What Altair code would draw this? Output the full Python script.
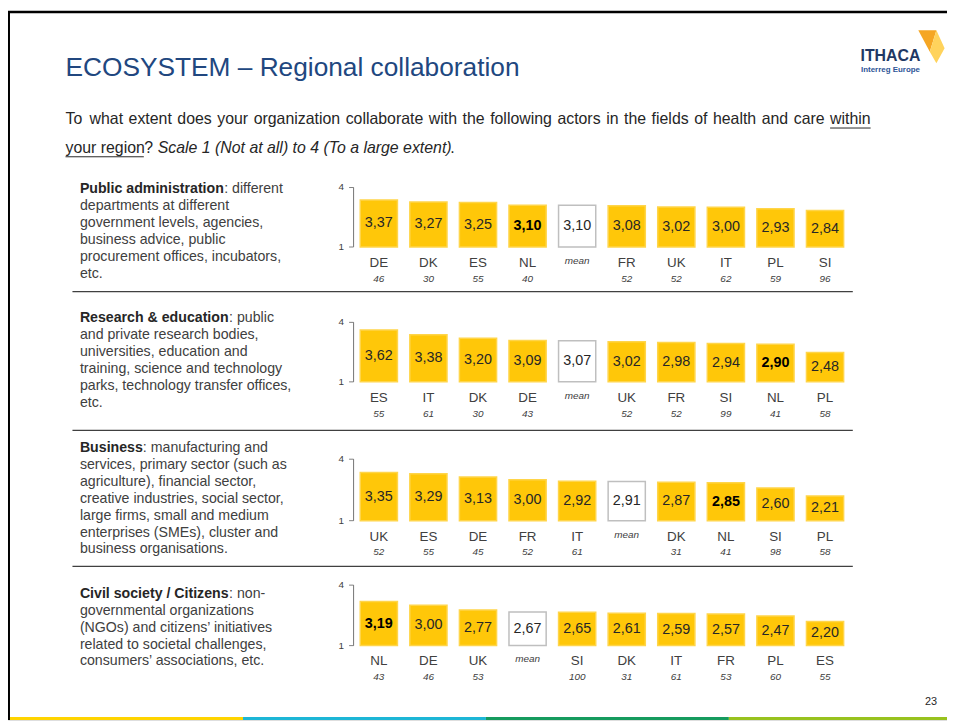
import altair as alt
import pandas as pd

W, H = 947, 715
FONT = "Liberation Sans"
YELLOW = "#FFC709"
MEAN_STROKE = "#BFBFBF"
TXT = "#404040"
DARK = "#262626"
AX = "#808080"
TITLE_COLOR = "#21477F"

TITLE = "ECOSYSTEM – Regional collaboration"
Q_LINE1 = "To what extent does your organization collaborate with the following actors in the fields of health and care within"
Q_UNDER2 = "your region"
Q_QMARK = "?"
Q_ITALIC = "Scale 1 (Not at all) to 4 (To a large extent)"
Q_END = "."
PAGE_NO = "23"
LOGO_1 = "ITHACA"
LOGO_2 = "Interreg Europe"

p1_countries = ["DE", "DK", "ES", "NL", "mean", "FR", "UK", "IT", "PL", "SI"]
p1_values = [3.37, 3.27, 3.25, 3.10, 3.10, 3.08, 3.02, 3.00, 2.93, 2.84]
p1_n = ["46", "30", "55", "40", "", "52", "52", "62", "59", "96"]

p2_countries = ["ES", "IT", "DK", "DE", "mean", "UK", "FR", "SI", "NL", "PL"]
p2_values = [3.62, 3.38, 3.20, 3.09, 3.07, 3.02, 2.98, 2.94, 2.90, 2.48]
p2_n = ["55", "61", "30", "43", "", "52", "52", "99", "41", "58"]

p3_countries = ["UK", "ES", "DE", "FR", "IT", "mean", "DK", "NL", "SI", "PL"]
p3_values = [3.35, 3.29, 3.13, 3.00, 2.92, 2.91, 2.87, 2.85, 2.60, 2.21]
p3_n = ["52", "55", "45", "52", "61", "", "31", "41", "98", "58"]

p4_countries = ["NL", "DE", "UK", "mean", "SI", "DK", "IT", "FR", "PL", "ES"]
p4_values = [3.19, 3.00, 2.77, 2.67, 2.65, 2.61, 2.59, 2.57, 2.47, 2.20]
p4_n = ["43", "46", "53", "", "100", "31", "61", "53", "60", "55"]

p1_bold = "Public administration"
p1_first = ": different"
p1_lines = ["departments at different", "government levels, agencies,", "business advice, public",
            "procurement offices, incubators,", "etc."]
p2_bold = "Research & education"
p2_first = ": public"
p2_lines = ["and private research bodies,", "universities, education and", "training, science and technology",
            "parks, technology transfer offices,", "etc."]
p3_bold = "Business"
p3_first = ": manufacturing and"
p3_lines = ["services, primary sector (such as", "agriculture), financial sector,",
            "creative industries, social sector,", "large firms, small and medium",
            "enterprises (SMEs), cluster and", "business organisations."]
p4_bold = "Civil society / Citizens"
p4_first = ": non-"
p4_lines = ["governmental organizations", "(NGOs) and citizens’ initiatives",
            "related to societal challenges,", "consumers’ associations, etc."]

AXIS_TICKS = [1, 4]

# layout (chart pixel coordinates)
PANEL_Y1 = [238, 374, 514, 640]
PANEL_Y4 = [178, 314, 452, 579]
DESC_Y = [173, 303, 434, 581]
BOLD_END = [218, 223, 136, 223]
SEP_Y = [283, 423, 560]
DESC_X = 72.5
LINE_H = 17
DESC_FS = 14.3
Q_FS = 16
Q_LEFT, Q_RIGHT = 58, 870

# Arial / Liberation Sans advance widths (1/1000 em) used to justify the first question line
_AW = {"a": 556, "b": 556, "c": 500, "d": 556, "e": 556, "f": 278, "g": 556, "h": 556, "i": 222,
       "j": 222, "k": 500, "l": 222, "m": 833, "n": 556, "o": 556, "p": 556, "q": 556, "r": 333,
       "s": 500, "t": 278, "u": 556, "v": 500, "w": 722, "x": 500, "y": 500, "z": 500, "T": 611}


def _w(s, fs):
    return sum(_AW.get(ch, 556) for ch in s) * fs / 1000.0


def justify(line, left, right, fs):
    words = line.split(" ")
    widths = [_w(wd, fs) for wd in words]
    gap = (right - left - sum(widths)) / (len(words) - 1)
    xs, cur = [], left
    for wd, wv in zip(words, widths):
        xs.append(cur)
        cur += wv + gap
    return pd.DataFrame({"word": words, "wx": xs, "ww": widths})


xscale = alt.Scale(type="band", range=[349, 849], paddingInner=0.25, paddingOuter=0.125)


def panel(countries, values, ns, y1, y4, bold, first, lines, dy, bx):
    df = pd.DataFrame({"pos": list(range(len(countries))), "country": countries,
                       "value": values, "n": ns})
    df["label"] = [f"{v:.2f}".replace(".", ",") for v in values]
    base = alt.Chart(df)
    x = alt.X("pos:O", scale=xscale, axis=None)
    ysc = alt.Scale(domain=[1, 4], range=[y1, y4], nice=False, zero=False)
    bars = base.mark_bar(strokeWidth=1.5).encode(
        x=x,
        y=alt.Y("value:Q", scale=ysc, axis=None),
        y2=alt.Y2(datum=1),
        fill=alt.condition("datum.country == 'mean'", alt.value("white"), alt.value(YELLOW)),
        stroke=alt.condition("datum.country == 'mean'", alt.value(MEAN_STROKE), alt.value("#FFD54A")),
    )
    vals = base.transform_calculate(mid="(datum.value + 1) / 2").transform_filter(
        "datum.country != 'NL'").mark_text(font=FONT, fontSize=14.5, color=DARK, baseline="middle").encode(
        x=x, y=alt.Y("mid:Q"), text="label:N")
    vals_nl = base.transform_calculate(mid="(datum.value + 1) / 2").transform_filter(
        "datum.country == 'NL'").mark_text(font=FONT, fontSize=14.5, color="#000000", fontWeight="bold",
                                           baseline="middle").encode(
        x=x, y=alt.Y("mid:Q"), text="label:N")
    ctry = base.transform_filter("datum.country != 'mean'").mark_text(
        font=FONT, fontSize=13.5, color=TXT, baseline="middle").encode(
        x=x, y=alt.value(y1 + 16), text="country:N")
    meanlab = base.transform_filter("datum.country == 'mean'").mark_text(
        font=FONT, fontSize=10, fontStyle="italic", color=TXT, baseline="middle").encode(
        x=x, y=alt.value(y1 + 14), text="country:N")
    nlab = base.mark_text(font=FONT, fontSize=10, fontStyle="italic", color=TXT, baseline="middle").encode(
        x=x, y=alt.value(y1 + 32), text="n:N")
    tdf = pd.DataFrame({"tick": AXIS_TICKS})
    tb = alt.Chart(tdf)
    axline = tb.mark_rule(color=AX, strokeWidth=1).encode(
        x=alt.value(348.5), y=alt.Y(datum=1), y2=alt.Y2(datum=4))
    ticks = tb.mark_rule(color=AX, strokeWidth=1).encode(
        x=alt.value(344), x2=alt.value(348.5), y=alt.Y("tick:Q"))
    tlabs = tb.mark_text(font=FONT, fontSize=10, color=TXT, align="right", baseline="middle").encode(
        x=alt.value(339), y=alt.Y("tick:Q"), text="tick:Q")
    one = pd.DataFrame({"k": [0]})
    d_bold = alt.Chart(one).mark_text(font=FONT, fontSize=DESC_FS, fontWeight="bold", color=DARK,
                                      align="left", baseline="top", text=bold).encode(
        x=alt.value(DESC_X), y=alt.value(dy))
    d_first = alt.Chart(one).mark_text(font=FONT, fontSize=DESC_FS, color=TXT,
                                       align="left", baseline="top", text=first).encode(
        x=alt.value(bx), y=alt.value(dy))
    d_rest = alt.Chart(one).mark_text(font=FONT, fontSize=DESC_FS, color=TXT, lineHeight=LINE_H,
                                      align="left", baseline="top", text=lines).encode(
        x=alt.value(DESC_X), y=alt.value(dy + LINE_H))
    return alt.layer(bars, vals, vals_nl, ctry, meanlab, nlab, axline, ticks, tlabs,
                     d_bold, d_first, d_rest)


panels = [
    panel(p1_countries, p1_values, p1_n, PANEL_Y1[0], PANEL_Y4[0], p1_bold, p1_first, p1_lines, DESC_Y[0], BOLD_END[0]),
    panel(p2_countries, p2_values, p2_n, PANEL_Y1[1], PANEL_Y4[1], p2_bold, p2_first, p2_lines, DESC_Y[1], BOLD_END[1]),
    panel(p3_countries, p3_values, p3_n, PANEL_Y1[2], PANEL_Y4[2], p3_bold, p3_first, p3_lines, DESC_Y[2], BOLD_END[2]),
    panel(p4_countries, p4_values, p4_n, PANEL_Y1[3], PANEL_Y4[3], p4_bold, p4_first, p4_lines, DESC_Y[3], BOLD_END[3]),
]

one = pd.DataFrame({"k": [0]})
oc = alt.Chart(one)

seps = alt.Chart(pd.DataFrame({"sy": SEP_Y})).mark_rule(color="#404040", strokeWidth=1.2).encode(
    x=alt.value(65), x2=alt.value(852), y=alt.Y("sy:Q", scale=None))

title = oc.mark_text(font=FONT, fontSize=26.5, color=TITLE_COLOR, align="left", baseline="middle",
                     text=TITLE).encode(x=alt.value(58), y=alt.value(58))

words = justify(Q_LINE1, Q_LEFT, Q_RIGHT, Q_FS)
q1 = alt.Chart(words).mark_text(font=FONT, fontSize=Q_FS, color=DARK, align="left", baseline="middle").encode(
    x=alt.X("wx:Q", scale=None), y=alt.value(109), text="word:N")
last = words.iloc[-1]
q1ul = oc.mark_rule(color=DARK, strokeWidth=1).encode(
    x=alt.value(float(last["wx"])), x2=alt.value(Q_RIGHT), y=alt.value(118))
q2u = oc.mark_text(font=FONT, fontSize=Q_FS, color=DARK, align="left", baseline="middle",
                   text=Q_UNDER2).encode(x=alt.value(58), y=alt.value(138))
q2ul = oc.mark_rule(color=DARK, strokeWidth=1).encode(x=alt.value(58), x2=alt.value(137), y=alt.value(147))
q2q = oc.mark_text(font=FONT, fontSize=Q_FS, color=DARK, align="left", baseline="middle",
                   text=Q_QMARK).encode(x=alt.value(137.5), y=alt.value(138))
q2i = oc.mark_text(font=FONT, fontSize=Q_FS, fontStyle="italic", color=DARK, align="left", baseline="middle",
                   text=Q_ITALIC).encode(x=alt.value(151), y=alt.value(138))
q2e = oc.mark_text(font=FONT, fontSize=Q_FS, color=DARK, align="left", baseline="middle",
                   text=Q_END).encode(x=alt.value(446), y=alt.value(138))

logo1 = oc.mark_text(font=FONT, fontSize=16, fontWeight="bold", color="#1F3864", align="center",
                     baseline="middle", text=LOGO_1).encode(x=alt.value(890), y=alt.value(45))
logo2 = oc.mark_text(font=FONT, fontSize=8, fontWeight="bold", color="#2E5597", align="center",
                     baseline="middle", text=LOGO_2).encode(x=alt.value(890), y=alt.value(60))
logo_a = oc.mark_point(shape="M-0.6,-1 L0.5,-1 L0.1,0.3 Z", filled=True, size=1100, opacity=1,
                       color="#F5A623").encode(x=alt.value(928), y=alt.value(36))
logo_b = oc.mark_point(shape="M0.5,-1 L1,0.1 L0.5,1 L0.1,0.3 Z", filled=True, size=1100, opacity=1,
                       color="#FFD35C").encode(x=alt.value(928), y=alt.value(36))

page = oc.mark_text(font=FONT, fontSize=11, color=DARK, align="right", baseline="middle",
                    text=PAGE_NO).encode(x=alt.value(937), y=alt.value(697))

frame_left = oc.mark_rule(color="#000000", strokeWidth=3).encode(
    x=alt.value(0.5), y=alt.value(0), y2=alt.value(H))
frame_top = oc.mark_rule(color="#000000", strokeWidth=2.5).encode(
    x=alt.value(0), x2=alt.value(W), y=alt.value(1))

STRIPE_COLORS = ["#FFD400", "#1DB6D6", "#169B5E", "#98C21E"]
STRIPE_X = [2, 237, 482, 727, 947]
stripes = [oc.mark_rule(color=c, strokeWidth=3).encode(
    x=alt.value(STRIPE_X[i]), x2=alt.value(STRIPE_X[i + 1]), y=alt.value(H - 1.5))
    for i, c in enumerate(STRIPE_COLORS)]

deco = alt.layer(seps, title, q1, q1ul, q2u, q2ul, q2q, q2i, q2e,
                 logo1, logo2, logo_a, logo_b, page, frame_left, frame_top, *stripes)

chart = alt.layer(*panels, deco).resolve_scale(y="independent").properties(
    width=W, height=H, autosize=alt.AutoSizeParams(type="none"), padding=0
).configure_view(stroke=None).configure(background="white")

chart.save("out.html", embed_options={"renderer": "svg", "actions": False})
